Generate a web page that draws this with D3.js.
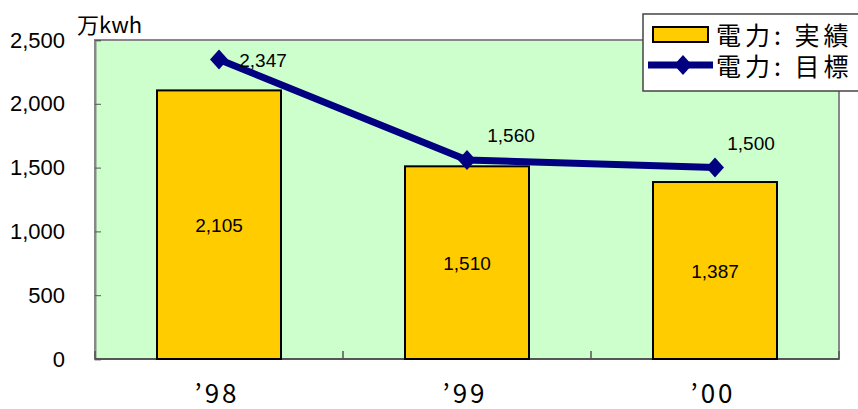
<!DOCTYPE html>
<meta charset="utf-8">
<style>
  body { margin: 0; background: #fff; }
  .tick-label { font-family: "Liberation Sans", Arial, sans-serif; font-size: 22px; fill: #000; }
  .val { font-family: "Liberation Sans", Arial, sans-serif; font-size: 19px; fill: #000; }
  .cat { font-family: "Noto Sans CJK JP", "DejaVu Sans", sans-serif; font-size: 26px; fill: #000; letter-spacing: 3px; }
  .jp { font-family: "Noto Sans CJK JP", sans-serif; fill: #000; }
</style>
<svg width="858" height="409"></svg>
<script src="https://cdnjs.cloudflare.com/ajax/libs/d3/7.8.5/d3.min.js"></script>
<script>
// data
var years = ["’98", "’99", "’00"];
var actual = [2105, 1510, 1387];
var target = [2347, 1560, 1500];
var yTicks = [0, 500, 1000, 1500, 2000, 2500];

var svg = d3.select("svg");
var pLeft = 95, pRight = 839, pTop = 40, pBottom = 359;

var x = d3.scaleBand()
    .domain(years)
    .range([pLeft, pRight])
    .paddingInner(0.5)
    .paddingOuter(0.25);
var y = d3.scaleLinear()
    .domain([0, 2500])
    .range([pBottom, pTop]);
var fmt = d3.format(",");

// plot background
svg.append("rect")
    .attr("x", pLeft).attr("y", pTop)
    .attr("width", pRight - pLeft).attr("height", pBottom - pTop)
    .attr("fill", "#ccffcc")
    .attr("stroke", "#888").attr("stroke-width", 2);

// y axis
var yAxis = d3.axisLeft(y).tickValues(yTicks).tickSize(-6).tickPadding(30).tickFormat(fmt);
var gy = svg.append("g").attr("transform", "translate(" + pLeft + ",0)").call(yAxis);
gy.select(".domain").attr("stroke", "#888").attr("stroke-width", 2);
gy.selectAll(".tick line").attr("stroke", "#555");
gy.selectAll(".tick text").attr("class", "tick-label").attr("font-family", null).attr("font-size", null);

// x axis: ticks between categories, labels below
var step = x.step();
var bounds = [pLeft].concat(years.slice(1).map(function (d) { return x(d) - x.paddingInner() * step / 2; })).concat([pRight]);
svg.append("g").selectAll("line")
    .data(bounds)
    .enter().append("line")
    .attr("x1", function (d) { return d; }).attr("x2", function (d) { return d; })
    .attr("y1", pBottom).attr("y2", pBottom - 8)
    .attr("stroke", "#555").attr("stroke-width", 1.5);
svg.append("line")
    .attr("x1", pLeft).attr("x2", pRight)
    .attr("y1", pBottom).attr("y2", pBottom)
    .attr("stroke", "#555").attr("stroke-width", 2);

svg.append("g").selectAll("text")
    .data(years)
    .enter().append("text")
    .attr("class", "cat")
    .attr("x", function (d) { return x(d) + x.bandwidth() / 2 - 2; })
    .attr("y", 403)
    .attr("text-anchor", "middle")
    .text(function (d) { return d; });

// unit
svg.append("text").attr("class", "jp")
    .attr("x", 77).attr("y", 33)
    .attr("font-size", 22)
    .text("万kwh");

// bars
svg.append("g").selectAll("rect")
    .data(actual)
    .enter().append("rect")
    .attr("x", function (d, i) { return x(years[i]); })
    .attr("y", function (d) { return y(d); })
    .attr("width", x.bandwidth())
    .attr("height", function (d) { return pBottom - y(d); })
    .attr("fill", "#ffcc00")
    .attr("stroke", "#000").attr("stroke-width", 2);

svg.append("g").selectAll("text")
    .data(actual)
    .enter().append("text")
    .attr("class", "val")
    .attr("x", function (d, i) { return x(years[i]) + x.bandwidth() / 2; })
    .attr("y", function (d) { return (y(d) + pBottom) / 2 + 7; })
    .attr("text-anchor", "middle")
    .text(function (d) { return fmt(d); });

// target line
var cx = function (d, i) { return x(years[i]) + x.bandwidth() / 2; };
var line = d3.line().x(cx).y(function (d) { return y(d); });
svg.append("path")
    .datum(target)
    .attr("d", line)
    .attr("fill", "none")
    .attr("stroke", "#000080").attr("stroke-width", 7);

var diamond = "M0,-10L9,0L0,10L-9,0Z";
svg.append("g").selectAll("path")
    .data(target)
    .enter().append("path")
    .attr("d", diamond)
    .attr("transform", function (d, i) { return "translate(" + cx(d, i) + "," + y(d) + ")"; })
    .attr("fill", "#000080");

svg.append("g").selectAll("text")
    .data(target)
    .enter().append("text")
    .attr("class", "val")
    .attr("x", function (d, i) { return cx(d, i) + (i === 2 ? 36 : 44); })
    .attr("y", function (d) {
        var ly = y(d) - 25;
        return (ly < pTop + 10 ? y(d) : ly) + 7;
    })
    .attr("text-anchor", "middle")
    .text(function (d) { return fmt(d); });

// legend
var lg = svg.append("g").attr("transform", "translate(643,14)");
lg.append("rect")
    .attr("width", 230).attr("height", 77)
    .attr("fill", "#fff").attr("stroke", "#444").attr("stroke-width", 1.5);
lg.append("rect")
    .attr("x", 10).attr("y", 13).attr("width", 55).attr("height", 15)
    .attr("fill", "#ffcc00").attr("stroke", "#000").attr("stroke-width", 2);
lg.append("line")
    .attr("x1", 5).attr("x2", 70).attr("y1", 51).attr("y2", 51)
    .attr("stroke", "#000080").attr("stroke-width", 7);
lg.append("path")
    .attr("d", diamond)
    .attr("transform", "translate(40,51)")
    .attr("fill", "#000080");
lg.append("text").attr("class", "jp")
    .attr("x", 73).attr("y", 31).attr("font-size", 25)
    .attr("letter-spacing", 4)
    .text("電力: 実績");
lg.append("text").attr("class", "jp")
    .attr("x", 73).attr("y", 62).attr("font-size", 25)
    .attr("letter-spacing", 4)
    .text("電力: 目標");
</script>
